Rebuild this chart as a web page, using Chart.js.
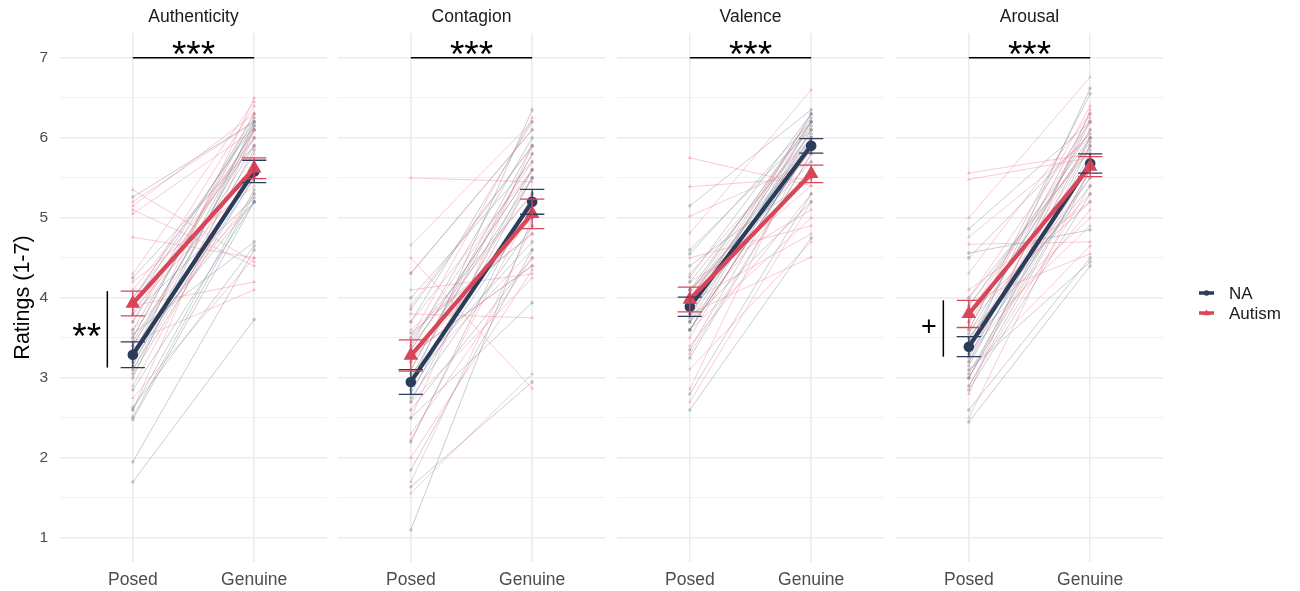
<!DOCTYPE html>
<html>
<head>
<meta charset="utf-8">
<script src="https://cdn.jsdelivr.net/npm/chart.js@4.4.1/dist/chart.umd.min.js"></script>
<style>
  html, body { margin: 0; padding: 0; background: #fff; }
  #wrap { position: relative; width: 1300px; height: 591px; overflow: hidden; }
  canvas { position: absolute; top: 0; }
</style>
</head>
<body>
<div id="wrap">
  <canvas id="c0" width="327" height="591" style="left:0"></canvas>
  <canvas id="c1" width="267" height="591" style="left:338px"></canvas>
  <canvas id="c2" width="267" height="591" style="left:617px"></canvas>
  <canvas id="c3" width="404" height="591" style="left:896px"></canvas>
</div>
<script>
"use strict";

const facets = ["Authenticity", "Contagion", "Valence", "Arousal"];
const conditions = ["Posed", "Genuine"];
const groups = ["NA", "Autism"];
const yGridValues = [1, 1.5, 2, 2.5, 3, 3.5, 4, 4.5, 5, 5.5, 6, 6.5, 7];

// group means and error bar half-widths, one value per facet
const naPosedMean = [3.29, 2.95, 3.89, 3.39];
const naGenuineMean = [5.58, 5.20, 5.90, 5.68];
const naPosedErr = [0.16, 0.155, 0.12, 0.125];
const naGenuineErr = [0.14, 0.155, 0.09, 0.12];
const autPosedMean = [3.93, 3.28, 3.98, 3.80];
const autGenuineMean = [5.62, 5.05, 5.55, 5.64];
const autPosedErr = [0.155, 0.195, 0.155, 0.17];
const autGenuineErr = [0.13, 0.185, 0.11, 0.125];

// significance labels
const conditionSig = ["***", "***", "***", "***"];
const groupSigPosed = ["**", "", "", "+"];

// individual participants (posed -> genuine)
const authNAPosed = [1.70, 1.95, 2.48, 2.51, 2.63, 2.85, 3.00, 3.10, 3.15, 3.20, 3.30, 3.35, 3.40, 3.45, 3.50, 3.55, 3.60, 3.70, 3.80, 3.90, 4.00, 4.25, 5.26, 2.60, 3.05];
const authNAGenuine = [3.73, 4.60, 5.20, 5.30, 4.65, 5.20, 6.20, 5.85, 6.10, 5.50, 6.15, 5.20, 6.00, 5.90, 6.25, 4.70, 6.10, 6.30, 5.25, 6.20, 6.15, 5.90, 6.20, 5.35, 5.50];
const authAutPosed = [5.35, 5.20, 5.15, 5.10, 5.05, 4.76, 4.30, 4.20, 4.10, 4.00, 3.95, 3.90, 3.85, 3.80, 3.70, 3.60, 3.50, 3.45, 3.40, 3.30, 3.20, 3.10, 2.90, 2.75, 2.60];
const authAutGenuine = [4.45, 6.20, 6.30, 4.40, 6.10, 4.50, 6.45, 5.40, 6.00, 5.90, 6.40, 4.20, 5.50, 6.00, 6.10, 5.20, 6.30, 4.10, 5.80, 5.30, 6.50, 5.60, 5.70, 4.50, 6.10];

const contNAPosed = [1.10, 1.64, 1.85, 2.20, 2.50, 2.70, 2.75, 2.80, 2.85, 2.90, 2.95, 3.00, 3.05, 3.10, 3.20, 3.30, 3.40, 3.50, 3.56, 3.70, 3.86, 4.00, 4.31, 2.60, 3.35];
const contNAGenuine = [5.00, 2.95, 4.60, 5.30, 3.94, 5.50, 4.90, 5.60, 5.10, 6.35, 5.20, 5.80, 4.70, 5.90, 5.50, 4.40, 6.00, 5.30, 4.80, 6.20, 5.90, 5.70, 6.10, 4.50, 5.60];
const contAutPosed = [5.50, 4.66, 4.50, 4.30, 4.10, 3.90, 3.80, 3.70, 3.60, 3.50, 3.40, 3.30, 3.20, 3.10, 3.00, 2.90, 2.70, 2.50, 2.30, 2.22, 2.00, 1.70, 1.56, 3.45, 3.35];
const contAutGenuine = [5.45, 6.20, 2.87, 6.10, 4.30, 5.90, 3.75, 5.60, 4.80, 6.25, 5.30, 4.40, 5.00, 5.80, 4.60, 5.50, 4.25, 5.90, 4.50, 5.15, 4.35, 4.90, 3.05, 5.70, 5.60];

const valNAPosed = [2.60, 2.80, 3.25, 3.35, 3.60, 3.70, 3.60, 3.70, 3.75, 3.80, 3.85, 3.90, 4.00, 4.05, 4.10, 4.20, 4.26, 4.40, 4.55, 4.60, 5.15, 3.60, 3.95, 4.00, 4.10];
const valNAGenuine = [4.75, 5.30, 5.80, 6.00, 5.90, 6.10, 6.20, 5.20, 6.30, 5.85, 6.00, 6.15, 5.95, 6.25, 5.70, 6.05, 6.30, 5.50, 6.20, 6.10, 6.35, 5.90, 5.60, 6.00, 6.20];
const valAutPosed = [5.75, 5.39, 5.02, 4.81, 4.50, 4.30, 4.20, 4.10, 4.00, 3.95, 3.90, 3.85, 3.80, 3.70, 3.60, 3.50, 3.40, 3.30, 3.11, 2.86, 2.70, 3.60, 4.10, 3.80, 3.90];
const valAutGenuine = [5.40, 5.50, 5.70, 6.60, 4.90, 6.00, 5.10, 5.40, 6.20, 4.80, 5.90, 6.30, 4.51, 5.60, 5.00, 6.10, 5.30, 5.80, 4.70, 6.00, 5.20, 5.90, 5.50, 6.20, 5.60];

const aroNAPosed = [2.45, 2.60, 2.85, 3.00, 3.00, 3.10, 3.15, 3.20, 3.25, 3.30, 3.35, 3.40, 3.45, 3.50, 3.55, 3.60, 3.70, 3.80, 3.90, 4.00, 4.50, 4.56, 4.86, 2.90, 3.05];
const aroNAGenuine = [4.40, 4.50, 5.30, 5.60, 5.90, 4.45, 6.00, 5.80, 6.20, 5.50, 6.62, 5.70, 6.30, 5.40, 6.10, 6.55, 5.95, 5.20, 6.00, 5.85, 6.05, 4.85, 6.20, 5.60, 5.75];
const aroAutPosed = [5.56, 5.48, 5.00, 4.76, 4.67, 4.31, 4.10, 4.00, 3.95, 3.90, 3.80, 3.70, 3.60, 3.50, 3.45, 3.40, 3.30, 3.20, 3.10, 3.00, 2.90, 2.80, 2.50, 3.60, 3.35];
const aroAutGenuine = [5.80, 5.75, 6.76, 6.00, 4.70, 6.30, 5.20, 6.20, 4.55, 5.90, 6.10, 5.30, 6.40, 5.50, 4.90, 6.00, 5.10, 6.25, 4.65, 5.70, 5.40, 6.35, 5.60, 5.00, 5.90];

const naPosedAll = [authNAPosed, contNAPosed, valNAPosed, aroNAPosed];
const naGenuineAll = [authNAGenuine, contNAGenuine, valNAGenuine, aroNAGenuine];
const autPosedAll = [authAutPosed, contAutPosed, valAutPosed, aroAutPosed];
const autGenuineAll = [authAutGenuine, contAutGenuine, valAutGenuine, aroAutGenuine];

const FONT = "'Liberation Sans', Arial, Helvetica, sans-serif";
const NAVY = "#2c3d5b";
const RED = "#d8465a";
const GREY_LINE = "rgba(120,132,148,0.4)";
const PINK_LINE = "rgba(236,120,140,0.38)";
const TICK_GREY = "#4d4d4d";

Chart.defaults.font.family = FONT;

function pair(posed, genuine) {
  return [{ x: 1, y: posed }, { x: 2, y: genuine }];
}

function buildDatasets(i) {
  const sets = [];
  sets.push({
    label: "Autism",
    data: pair(autPosedMean[i], autGenuineMean[i]),
    borderColor: RED, backgroundColor: RED,
    borderWidth: 4.2, pointStyle: "triangle", pointRadius: 4.2,
    order: 0,
  });
  sets.push({
    label: "NA",
    data: pair(naPosedMean[i], naGenuineMean[i]),
    borderColor: NAVY, backgroundColor: NAVY,
    borderWidth: 4.2, pointStyle: "circle", pointRadius: 3.2,
    order: 1,
  });
  const nP = naPosedAll[i], nG = naGenuineAll[i];
  const aP = autPosedAll[i], aG = autGenuineAll[i];
  const n = Math.max(nP.length, aP.length);
  for (let j = 0; j < n; j++) {
    if (j < nP.length) {
      sets.push({
        data: pair(nP[j], nG[j]),
        borderColor: GREY_LINE, backgroundColor: GREY_LINE,
        borderWidth: 1, pointStyle: "circle", pointRadius: 1.8, pointBorderWidth: 0,
        order: 2,
      });
    }
    if (j < aP.length) {
      sets.push({
        data: pair(aP[j], aG[j]),
        borderColor: PINK_LINE, backgroundColor: PINK_LINE,
        borderWidth: 1, pointStyle: "triangle", pointRadius: 2.3, pointBorderWidth: 0,
        order: 2,
      });
    }
  }
  return sets;
}

function panelPlugin(i) {
  return {
    id: "panel" + i,
    afterDatasetsDraw(chart) {
      const { ctx } = chart;
      const xs = chart.scales.x, ys = chart.scales.y;
      const bars = [
        [naPosedMean[i], naPosedErr[i], 1, NAVY],
        [naGenuineMean[i], naGenuineErr[i], 2, NAVY],
        [autPosedMean[i], autPosedErr[i], 1, RED],
        [autGenuineMean[i], autGenuineErr[i], 2, RED],
      ];
      ctx.save();
      ctx.lineWidth = 1.3;
      bars.forEach(([m, e, x, col]) => {
        const px = xs.getPixelForValue(x);
        const cap = xs.getPixelForValue(x + 0.1) - px;
        const top = ys.getPixelForValue(m + e);
        const bot = ys.getPixelForValue(m - e);
        ctx.strokeStyle = col;
        ctx.beginPath();
        ctx.moveTo(px, top); ctx.lineTo(px, bot);
        ctx.moveTo(px - cap, top); ctx.lineTo(px + cap, top);
        ctx.moveTo(px - cap, bot); ctx.lineTo(px + cap, bot);
        ctx.stroke();
      });
      ctx.restore();
    },
    afterDraw(chart) {
      const { ctx, chartArea } = chart;
      const xs = chart.scales.x, ys = chart.scales.y;
      ctx.save();
      // facet strip title
      ctx.fillStyle = "#1a1a1a";
      ctx.font = "17.5px " + FONT;
      ctx.textAlign = "center";
      ctx.textBaseline = "middle";
      ctx.fillText(facets[i], (chartArea.left + chartArea.right) / 2, 17);

      // posed vs genuine bracket
      ctx.strokeStyle = "#000";
      ctx.lineWidth = 1.5;
      ctx.beginPath();
      ctx.moveTo(xs.getPixelForValue(1), ys.getPixelForValue(7));
      ctx.lineTo(xs.getPixelForValue(2), ys.getPixelForValue(7));
      ctx.stroke();
      ctx.fillStyle = "#000";
      ctx.font = "37px " + FONT;
      ctx.textBaseline = "alphabetic";
      ctx.fillText(conditionSig[i], xs.getPixelForValue(1.5), 67);

      // group difference at posed
      if (groupSigPosed[i]) {
        const lx = xs.getPixelForValue(0.79);
        const hi = Math.max(naPosedMean[i] + naPosedErr[i], autPosedMean[i] + autPosedErr[i]);
        const lo = Math.min(naPosedMean[i] - naPosedErr[i], autPosedMean[i] - autPosedErr[i]);
        ctx.beginPath();
        ctx.moveTo(lx, ys.getPixelForValue(hi));
        ctx.lineTo(lx, ys.getPixelForValue(lo));
        ctx.stroke();
        if (groupSigPosed[i] === "+") {
          ctx.font = "27px " + FONT;
          ctx.textBaseline = "middle";
          ctx.fillText("+", xs.getPixelForValue(0.67), 328);
        } else {
          ctx.font = "37px " + FONT;
          ctx.textBaseline = "alphabetic";
          ctx.fillText(groupSigPosed[i], xs.getPixelForValue(0.62), 349);
        }
      }

      // legend on the last panel
      if (i === facets.length - 1) {
        const x0 = chartArea.right + 36;
        const rows = [[groups[0], NAVY, "circle", 293], [groups[1], RED, "triangle", 313]];
        rows.forEach(([label, col, shape, y]) => {
          ctx.strokeStyle = col;
          ctx.fillStyle = col;
          ctx.lineWidth = 3.5;
          ctx.beginPath();
          ctx.moveTo(x0, y); ctx.lineTo(x0 + 15, y);
          ctx.stroke();
          const cx = x0 + 7.5;
          ctx.beginPath();
          if (shape === "circle") {
            ctx.arc(cx, y, 2.8, 0, Math.PI * 2);
          } else {
            ctx.moveTo(cx, y - 3.6); ctx.lineTo(cx + 3.4, y + 2.2); ctx.lineTo(cx - 3.4, y + 2.2);
            ctx.closePath();
          }
          ctx.fill();
          ctx.fillStyle = "#1a1a1a";
          ctx.font = "17px " + FONT;
          ctx.textAlign = "left";
          ctx.textBaseline = "middle";
          ctx.fillText(label, x0 + 30, y + 1);
        });
      }
      ctx.restore();
    },
  };
}

function buildChart(i) {
  const first = i === 0;
  const last = i === facets.length - 1;
  const canvas = document.getElementById("c" + i);
  return new Chart(canvas, {
    type: "line",
    data: { datasets: buildDatasets(i) },
    options: {
      responsive: false,
      animation: false,
      events: [],
      layout: { autoPadding: false, padding: { top: 33, right: last ? 137 : 0, left: 0, bottom: 0 } },
      plugins: { legend: { display: false }, tooltip: { enabled: false } },
      scales: {
        x: {
          type: "linear",
          min: 0.4,
          max: 2.6,
          afterBuildTicks: (s) => { s.ticks = [{ value: 1 }, { value: 2 }]; },
          afterFit: (s) => { s.height = 29; },
          ticks: {
            callback: (v) => conditions[Math.round(v) - 1],
            color: TICK_GREY,
            font: { size: 17.5 },
            padding: 8,
            maxRotation: 0,
            autoSkip: false,
          },
          grid: { color: "#ebebeb", lineWidth: 1.6, drawTicks: false },
          border: { display: false },
        },
        y: {
          type: "linear",
          min: 0.7,
          max: 7.31,
          afterBuildTicks: (s) => { s.ticks = yGridValues.map((v) => ({ value: v })); },
          afterFit: (s) => { s.width = first ? 60 : 0; },
          ticks: {
            display: first,
            callback: (v) => (Number.isInteger(v) ? v : ""),
            color: TICK_GREY,
            font: { size: 15.5 },
            padding: 12,
            autoSkip: false,
          },
          title: {
            display: first,
            text: "Ratings (1-7)",
            color: "#000",
            font: { size: 21.5 },
            padding: { top: 10, bottom: 0 },
          },
          grid: {
            color: (c) => (c.tick && Number.isInteger(c.tick.value) ? "#ebebeb" : "#f2f2f2"),
            lineWidth: (c) => (c.tick && Number.isInteger(c.tick.value) ? 1.6 : 1),
            drawTicks: false,
          },
          border: { display: false },
        },
      },
    },
    plugins: [panelPlugin(i)],
  });
}

facets.forEach((f, i) => buildChart(i));
</script>
</body>
</html>
